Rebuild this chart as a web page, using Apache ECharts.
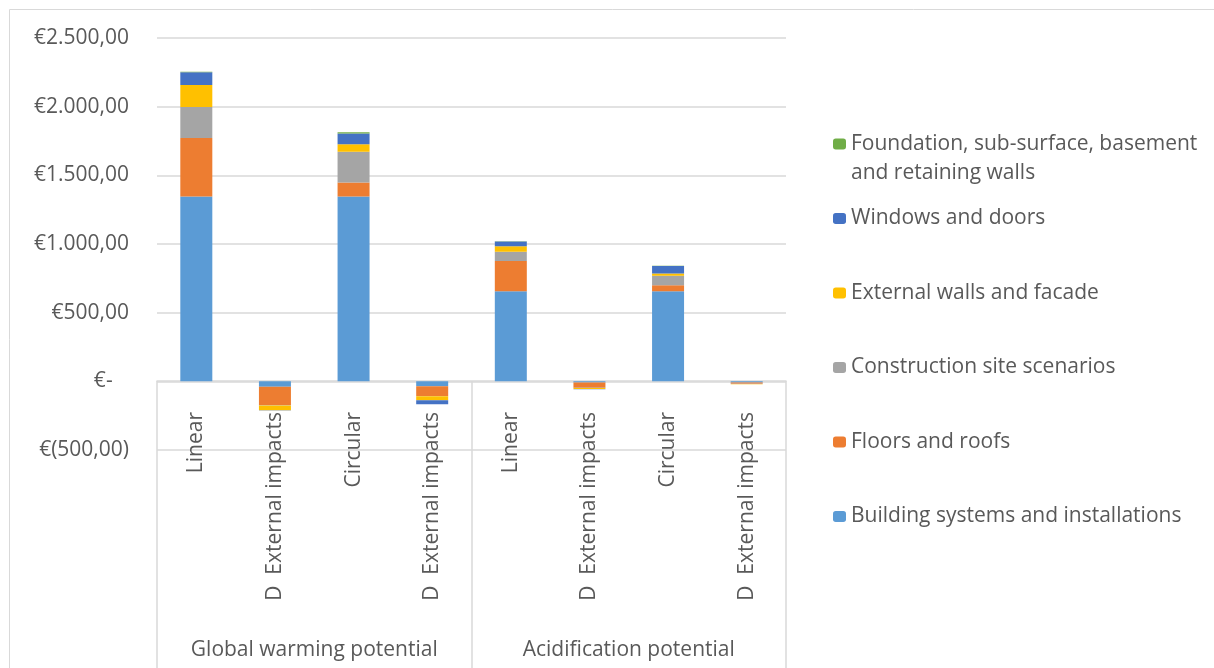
<!DOCTYPE html>
<html>
<head>
<meta charset="utf-8">
<script src="https://cdn.jsdelivr.net/npm/echarts@6/dist/echarts.min.js"></script>
<style>
html,body{margin:0;padding:0;background:#fff;}
#c{width:1214px;height:668px;}
</style>
</head>
<body>
<div id="c"></div>
<script>
const categories = ['Linear', 'D  External impacts', 'Circular', 'D  External impacts',
                    'Linear', 'D  External impacts', 'Circular', 'D  External impacts'];
const groups = ['Global warming potential', 'Acidification potential'];

const seriesNames = [
  'Building systems and installations',
  'Floors and roofs',
  'Construction site scenarios',
  'External walls and facade',
  'Windows and doors',
  'Foundation, sub-surface, basement and retaining walls'
];
const buildingSystems = [1346, -39, 1346, -36, 656, -8, 656, -8];
const floorsRoofs     = [425, -134, 102, -71, 221, -39, 44, -10];
const constructionSite= [226, -3, 223, -2, 66, -1, 68, -2];
const externalWalls   = [160, -34, 56, -29, 41, -8, 17, -1];
const windowsDoors    = [93, -2, 78, -29, 34, -1, 55, -1];
const foundation      = [4, 0, 8, 0, 2, 0, 2, 0];

const yMin = -500, yMax = 2500, yStep = 500;

const colors = ['#5B9BD5', '#ED7D31', '#A5A5A5', '#FFC000', '#4472C4', '#70AD47'];
const values = [buildingSystems, floorsRoofs, constructionSite, externalWalls, windowsDoors, foundation];

function fmtNum(v) {
  const parts = v.toFixed(2).split('.');
  parts[0] = parts[0].replace(/\B(?=(\d{3})+(?!\d))/g, '.');
  return parts[0] + ',' + parts[1];
}
function yLabel(v) {
  if (v === 0) return '€-\u00a0\u00a0\u00a0';
  if (v < 0) return '€(' + fmtNum(-v) + ')';
  return '€' + fmtNum(v);
}

const FONT = '"Open Sans", "Noto Sans", sans-serif';
const FS = 21;
const chart = echarts.init(document.getElementById('c'), null, {renderer: 'canvas'});

const series = seriesNames.map((n, i) => ({
  name: n,
  type: 'bar',
  stack: 'total',
  barWidth: 32,
  data: values[i],
  itemStyle: {color: colors[i]},
  emphasis: {disabled: true}
}));

const legendText = {color: '#595959', fontSize: FS, fontFamily: FONT, lineHeight: 29};

chart.setOption({
  animation: false,
  color: colors,
  graphic: [{
    type: 'rect', shape: {x: 9.5, y: 9.5, width: 1230, height: 700},
    style: {fill: 'none', stroke: '#d9d9d9', lineWidth: 1}, silent: true, z: -10
  }],
  grid: {left: 157, right: 428, top: 38, bottom: 218, containLabel: false},
  legend: [{
    orient: 'vertical', left: 828, top: 95.5,
    itemWidth: 13, itemHeight: 11, itemGap: 45,
    data: [seriesNames[5]],
    formatter: n => n === seriesNames[5] ? ' \nFoundation, sub-surface, basement\nand retaining walls' : n,
    textStyle: legendText, selectedMode: false
  }, {
    orient: 'vertical', left: 828, top: 199,
    itemWidth: 13, itemHeight: 11, itemGap: 45.5,
    data: [seriesNames[4], seriesNames[3], seriesNames[2], seriesNames[1], seriesNames[0]],
    textStyle: legendText, selectedMode: false
  }],
  xAxis: [{
    type: 'category',
    data: categories,
    position: 'bottom',
    offset: -69,
    axisLine: {onZero: false, lineStyle: {color: '#d9d9d9', width: 1.5}},
    axisTick: {show: false},
    axisLabel: {rotate: 90, margin: 31, color: '#595959', fontSize: FS, fontFamily: FONT, interval: 0}
  }, {
    type: 'category',
    data: groups,
    position: 'bottom',
    offset: -69,
    axisLine: {show: false, onZero: false},
    axisTick: {show: true, length: 300, lineStyle: {color: '#d9d9d9', width: 1.5}},
    axisLabel: {margin: 259, color: '#595959', fontSize: FS, fontFamily: FONT, interval: 0}
  }],
  yAxis: {
    type: 'value', min: yMin, max: yMax, interval: yStep,
    axisLine: {show: false}, axisTick: {show: false},
    splitLine: {lineStyle: {color: '#d9d9d9', width: 1.5}},
    axisLabel: {formatter: yLabel, color: '#595959', fontSize: FS, fontFamily: FONT, margin: 28}
  },
  series: series
});
</script>
</body>
</html>
